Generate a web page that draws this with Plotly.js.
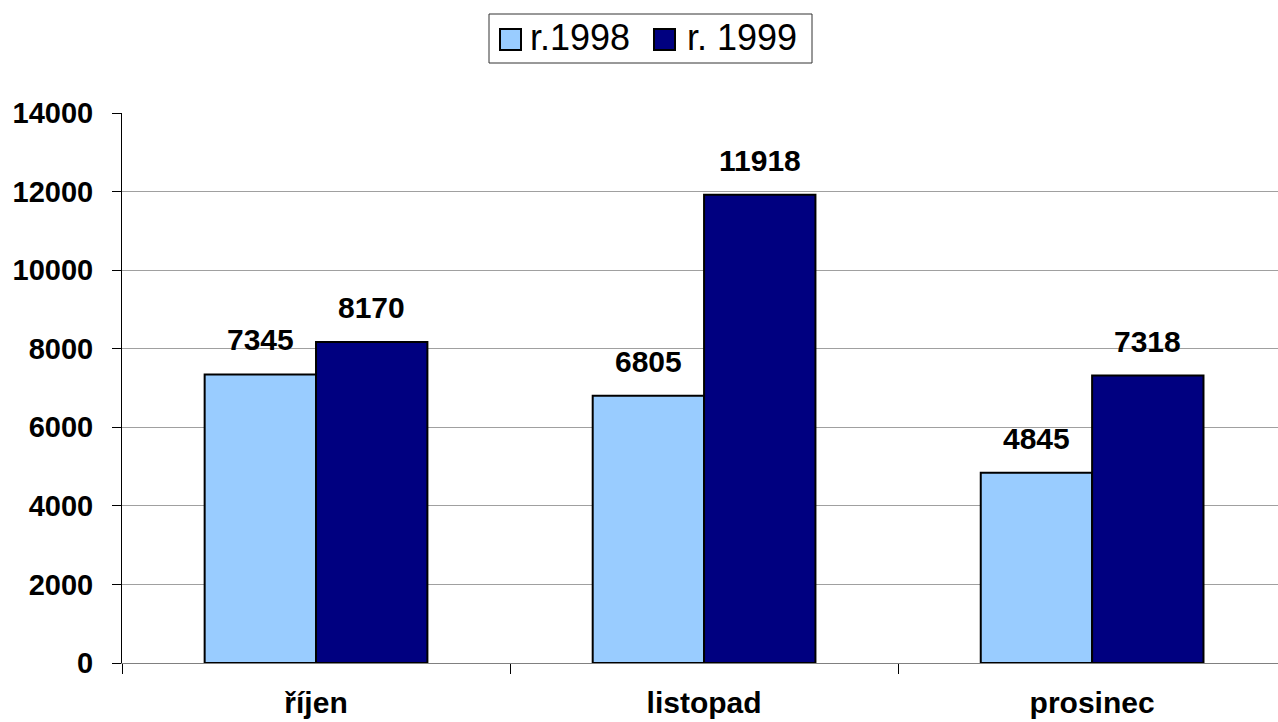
<!DOCTYPE html>
<html>
<head>
<meta charset="utf-8">
<script src="https://cdn.plot.ly/plotly-3.0.1.min.js"></script>
<style>html,body{margin:0;padding:0;background:#fff;}#chart{width:1278px;height:722px;}</style>
</head>
<body>
<div id="chart"></div>
<script>
const categories = ["říjen", "listopad", "prosinec"];
const seriesNames = ["r.1998", "r. 1999"];
const values1998 = [7345, 6805, 4845];
const values1999 = [8170, 11918, 7318];
const yTicks = [0, 2000, 4000, 6000, 8000, 10000, 12000, 14000];

const FONT = "Arial, 'Liberation Sans', sans-serif";
const colors = ["#99CCFF", "#000080"];

const W = 1278, H = 722;
const M = { l: 122, r: 0, t: 113, b: 59 };
const PW = W - M.l - M.r, PH = H - M.t - M.b;
const px = v => (v - M.l) / PW;        // pixel x -> paper x
const py = v => (H - M.b - v) / PH;    // pixel y -> paper y

const traces = [values1998, values1999].map((vals, i) => ({
  type: "bar",
  name: seriesNames[i],
  x: categories,
  y: vals,
  marker: { color: colors[i], line: { color: "#000000", width: 2 } },
  hoverinfo: "skip",
  showlegend: false
}));

const annotations = [];
[values1998, values1999].forEach((vals, i) => {
  vals.forEach((v, j) => {
    annotations.push({
      x: categories[j], y: v, xref: "x", yref: "y",
      xshift: i === 0 ? -55.5 : 55.5, yshift: 16,
      yanchor: "bottom", showarrow: false,
      text: "<b>" + v + "</b>",
      font: { family: FONT, size: 30, color: "#000" }
    });
  });
});

// custom legend (box, swatches, labels)
const shapes = [];
shapes.push({ type: "rect", xref: "paper", yref: "paper",
  x0: px(489), x1: px(812), y0: py(63), y1: py(14),
  line: { color: "#333", width: 1 }, fillcolor: "#fff", layer: "above" });
const swatchX = [500, 654];
const textX = [528, 685];
seriesNames.forEach((name, i) => {
  shapes.push({ type: "rect", xref: "paper", yref: "paper",
    x0: px(swatchX[i]), x1: px(swatchX[i] + 21), y0: py(50), y1: py(29),
    line: { color: "#000", width: 2 }, fillcolor: colors[i], layer: "above" });
  annotations.push({ xref: "paper", yref: "paper", x: px(textX[i]), y: py(38),
    xanchor: "left", yanchor: "middle", showarrow: false, text: name,
    font: { family: FONT, size: 36, color: "#000" } });
});

const layout = {
  width: W, height: H,
  margin: { l: M.l, r: M.r, t: M.t, b: M.b, pad: 0 },
  paper_bgcolor: "#fff", plot_bgcolor: "#fff",
  barmode: "group",
  bargap: 0.426, bargroupgap: 0,
  showlegend: false,
  xaxis: {
    type: "category",
    range: [-0.5, 2.479],
    showline: true, linecolor: "#808080", linewidth: 1,
    ticks: "outside", tickson: "boundaries", ticklen: 10, tickcolor: "#000", tickwidth: 1,
    tickfont: { family: FONT, size: 30, color: "#000", weight: "bold" },
    ticklabelstandoff: 13,
    showgrid: false, zeroline: false, fixedrange: true
  },
  yaxis: {
    range: [0, 14000],
    tickvals: yTicks, ticktext: yTicks.map(String),
    showline: true, linecolor: "#000", linewidth: 1,
    ticks: "outside", ticklen: 9, tickcolor: "#000",
    tickfont: { family: FONT, size: 29, color: "#000", weight: "bold" },
    ticklabelstandoff: 13,
    showgrid: true, gridcolor: "#A0A0A0", gridwidth: 1,
    zeroline: false, fixedrange: true
  },
  shapes: shapes,
  annotations: annotations
};

Plotly.newPlot("chart", traces, layout, { displayModeBar: false, staticPlot: true });
</script>
</body>
</html>
